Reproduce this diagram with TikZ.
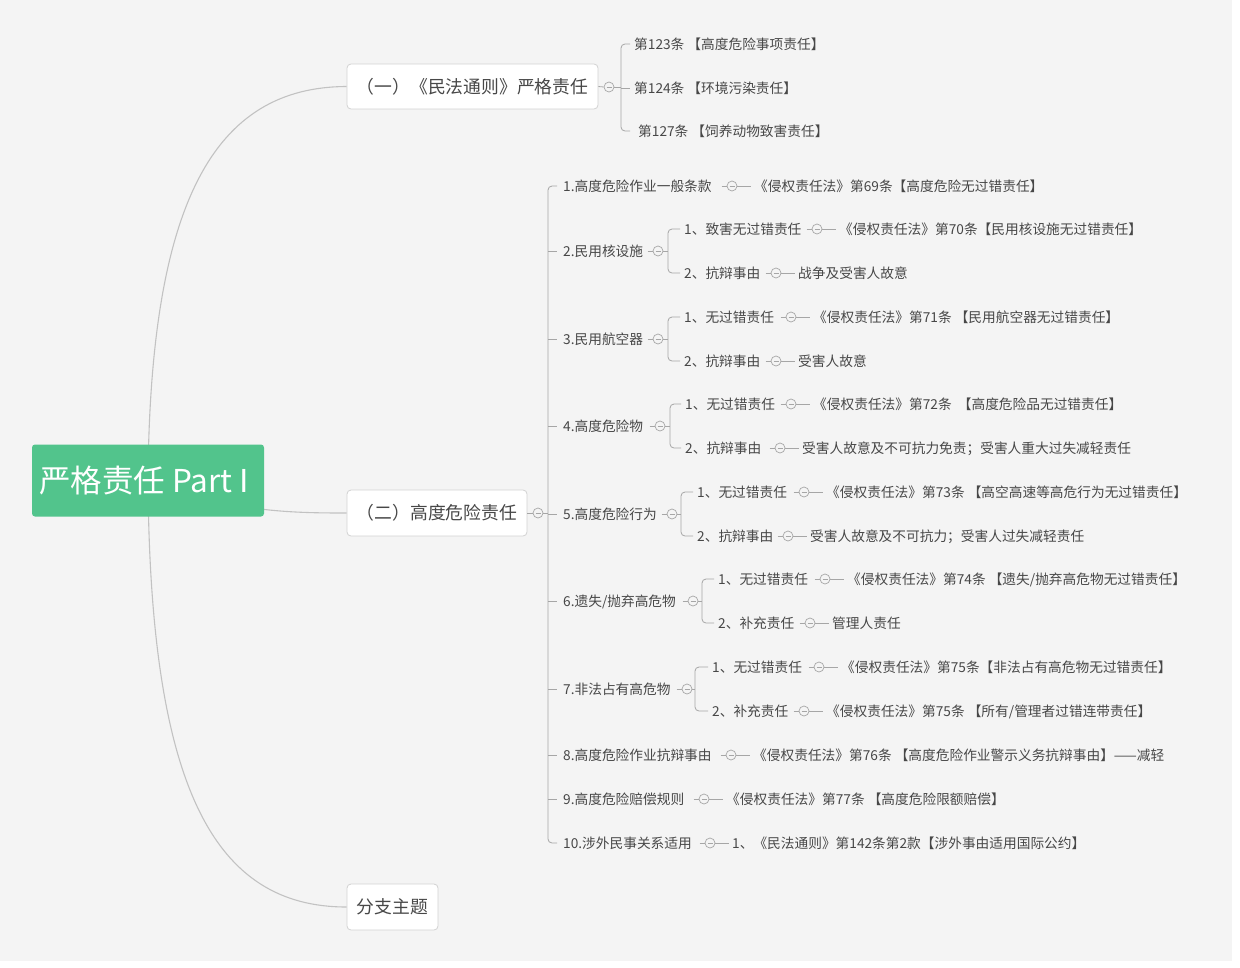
\documentclass[tikz,border=0pt]{standalone}
\usepackage{fontspec}
\setmainfont{Noto Sans CJK SC}
\usetikzlibrary{backgrounds}
\definecolor{bg}{HTML}{F4F4F4}
\definecolor{txt}{HTML}{474747}
\definecolor{lnc}{HTML}{A6A6A6}
\definecolor{curvec}{HTML}{C2C2C2}
\definecolor{boxb}{HTML}{D2D2D2}
\definecolor{rootg}{HTML}{52C48C}
\newcommand\leafpair[5]{%
  \node[col] (#1) at (#2,#3) {};
  \draw[ln] ([xshift=-5pt]#1.west) -- (#1.west);
  \node[leaf] (#4) at ([xshift=22pt]#1.center) {#5};
  \draw[ln] (#1.east) -- ([xshift=-3pt]#4.west);}
\newcommand\forkto[6]{%
  \node[col] (#1) at (#2,#3) {};
  \draw[ln] ([xshift=-5pt]#1.west) -- (#1.west);
  \coordinate (#1b) at (#4,#3);
  \draw[ln] (#1.east) -- (#1b);
  \draw[br] ([xshift=-4pt]#5.west) -- (#5.west -| #1b) -- (#6.west -| #1b) -- ([xshift=-4pt]#6.west);}
\begin{document}
\begin{tikzpicture}[x=1pt,y=-1pt,
  leaf/.style={anchor=west, inner sep=0pt, text height=12pt, text depth=1.7pt,
    font=\fontsize{13.7}{14}\selectfont, text=txt},
  topic/.style={draw=boxb, fill=white, rounded corners=4pt, inner sep=0pt,
    font=\fontsize{17.8}{18}\selectfont, text=txt, line width=0.8pt},
  rootbox/.style={fill=rootg, rounded corners=3pt, minimum width=232pt, minimum height=72pt,
    inner sep=0pt, text=white, font=\fontsize{31.5}{33}\selectfont},
  col/.style={circle, draw=lnc, fill=bg, minimum size=10pt, inner sep=0pt, line width=0.7pt,
    path picture={\draw[lnc,line width=0.7pt] ([xshift=-2.5pt]path picture bounding box.center) -- ([xshift=2.5pt]path picture bounding box.center);}},
  ln/.style={draw=lnc, line width=0.8pt},
  br/.style={ln, rounded corners=4pt},
  curve/.style={draw=curvec, line width=1.1pt}]
\useasboundingbox (0,0) rectangle (1240,967);

% root and topics
\node[rootbox] (root) at (148,480.5) {严格责任 Part\kern-0.12em Ⅰ\kern-0.1em};
\node[topic, minimum width=251pt, minimum height=45pt] (t1) at (472.5,86.5) {（一）《民法通则》严格责任};
\node[topic, minimum width=180pt, minimum height=46pt] (t2) at (437,513) {（二）高度危险责任};
\node[topic, minimum width=91pt, minimum height=46pt] (t3) at (392.5,907) {分支主题};

\begin{scope}[on background layer]
  \fill[white] (0,0) rectangle (1240,967);
  \fill[bg] (0,0) rectangle (1232,961);
  \draw[curve] (root.center) .. controls (150,200) and (215,87) .. (t1.west);
  \draw[curve] (root.center) .. controls (230,512) and (290,513) .. (t2.west);
  \draw[curve] (root.center) .. controls (150,790) and (215,907) .. (t3.west);
\end{scope}

% topic 1
\node[col] (c1) at (609,87) {};
\draw[ln] (t1.east) -- (c1.west);
\coordinate (b1) at (621,87);
\node[leaf] (a1) at (634,44) {第123条 【高度危险事项责任】};
\node[leaf] (a2) at (634,88) {第124条 【环境污染责任】};
\node[leaf] (a3) at (638,131) {第127条 【饲养动物致害责任】};
\draw[br] ([xshift=-4pt]a1.west) -- (a1.west -| b1) -- (a3.west -| b1) -- ([xshift=-8pt]a3.west);
\draw[ln] (a2.west -| b1) -- ([xshift=-4pt]a2.west);
\draw[ln] (c1.east) -- (b1);

% topic 2
\node[col] (c2) at (538,513) {};
\draw[ln] (t2.east) -- (c2.west);
\coordinate (b2) at (548,513);
\node[leaf] (i1) at (563,186) {1.高度危险作业一般条款};
\node[leaf] (i2) at (563,251) {2.民用核设施};
\node[leaf] (i3) at (563,339) {3.民用航空器};
\node[leaf] (i4) at (563,426) {4.高度危险物};
\node[leaf] (i5) at (563,514) {5.高度危险行为};
\node[leaf] (i6) at (563,601) {6.遗失/抛弃高危物};
\node[leaf] (i7) at (563,689) {7.非法占有高危物};
\node[leaf] (i8) at (563,755) {8.高度危险作业抗辩事由};
\node[leaf] (i9) at (563,799) {9.高度危险赔偿规则};
\node[leaf] (i10) at (563,843) {10.涉外民事关系适用};
\draw[br] ([xshift=-6pt]i1.west) -- (i1.west -| b2) -- (i10.west -| b2) -- ([xshift=-6pt]i10.west);
\foreach \n in {2,...,9} {\draw[ln] (i\n.west -| b2) -- ([xshift=-6pt]i\n.west);}
\draw[ln] (c2.east) -- (b2);

% row 1
\leafpair{d1}{732}{186}{e1}{《侵权责任法》第69条【高度危险无过错责任】}

% row 2
\node[leaf] (k21) at (684,229) {1、致害无过错责任};
\node[leaf] (k22) at (684,273) {2、抗辩事由};
\forkto{f2}{658}{251}{668}{k21}{k22}
\leafpair{s21}{817}{229}{g21}{《侵权责任法》第70条【民用核设施无过错责任】}
\leafpair{s22}{776}{273}{g22}{战争及受害人故意}

% row 3
\node[leaf] (k31) at (684,317) {1、无过错责任};
\node[leaf] (k32) at (684,361) {2、抗辩事由};
\forkto{f3}{658}{339}{668}{k31}{k32}
\leafpair{s31}{791}{317}{g31}{《侵权责任法》第71条 【民用航空器无过错责任】}
\leafpair{s32}{776}{361}{g32}{受害人故意}

% row 4
\node[leaf] (k41) at (685,404) {1、无过错责任};
\node[leaf] (k42) at (685,448) {2、抗辩事由};
\forkto{f4}{660}{426}{670}{k41}{k42}
\leafpair{s41}{791}{404}{g41}{《侵权责任法》第72条 \ 【高度危险品无过错责任】}
\leafpair{s42}{780}{448}{g42}{受害人故意及不可抗力免责；受害人重大过失减轻责任}

% row 5
\node[leaf] (k51) at (697,492) {1、无过错责任};
\node[leaf] (k52) at (697,536) {2、抗辩事由};
\forkto{f5}{672}{514}{681}{k51}{k52}
\leafpair{s51}{804}{492}{g51}{《侵权责任法》第73条 【高空高速等高危行为无过错责任】}
\leafpair{s52}{788}{536}{g52}{受害人故意及不可抗力；受害人过失减轻责任}

% row 6
\node[leaf] (k61) at (718,579) {1、无过错责任};
\node[leaf] (k62) at (718,623) {2、补充责任};
\forkto{f6}{693}{601}{702}{k61}{k62}
\leafpair{s61}{825}{579}{g61}{《侵权责任法》第74条 【遗失/抛弃高危物无过错责任】}
\leafpair{s62}{810}{623}{g62}{管理人责任}

% row 7
\node[leaf] (k71) at (712,667) {1、无过错责任};
\node[leaf] (k72) at (712,711) {2、补充责任};
\forkto{f7}{687}{689}{695}{k71}{k72}
\leafpair{s71}{819}{667}{g71}{《侵权责任法》第75条【非法占有高危物无过错责任】}
\leafpair{s72}{804}{711}{g72}{《侵权责任法》第75条 【所有/管理者过错连带责任】}

% rows 8-10
\leafpair{d8}{731}{755}{e8}{《侵权责任法》第76条 【高度危险作业警示义务抗辩事由】——减轻}
\leafpair{d9}{704}{799}{e9}{《侵权责任法》第77条 【高度危险限额赔偿】}
\leafpair{d10}{710}{843}{e10}{1、《民法通则》第142条第2款【涉外事由适用国际公约】}
\end{tikzpicture}
\end{document}
